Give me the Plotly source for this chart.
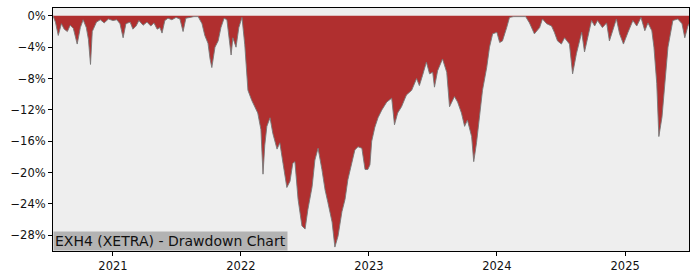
import plotly.graph_objects as go

dates = [
    "2020-07-14", "2020-07-21", "2020-07-29", "2020-08-07", "2020-08-15", "2020-08-24",
    "2020-09-01", "2020-09-10", "2020-09-21", "2020-09-30", "2020-10-08", "2020-10-17",
    "2020-10-23", "2020-10-29", "2020-11-03", "2020-11-15", "2020-11-26", "2020-12-07",
    "2020-12-19",
    "2021-01-01", "2021-01-12", "2021-01-21", "2021-01-30", "2021-02-07", "2021-02-19",
    "2021-02-27", "2021-03-08", "2021-03-16", "2021-03-28", "2021-04-08", "2021-04-19",
    "2021-04-28", "2021-05-07", "2021-05-15", "2021-05-21", "2021-05-29", "2021-06-07",
    "2021-06-18", "2021-06-30", "2021-07-11", "2021-07-20", "2021-07-28", "2021-08-09",
    "2021-08-20", "2021-09-01", "2021-09-12", "2021-09-20", "2021-09-29", "2021-10-05",
    "2021-10-10", "2021-10-19", "2021-10-28", "2021-11-05", "2021-11-14", "2021-11-22",
    "2021-11-28", "2021-12-04", "2021-12-09", "2021-12-18", "2021-12-26",
    "2022-01-04", "2022-01-12", "2022-01-21", "2022-02-01", "2022-02-10", "2022-02-18",
    "2022-02-27", "2022-03-05", "2022-03-10", "2022-03-16", "2022-03-25", "2022-04-02",
    "2022-04-14", "2022-04-22", "2022-05-01", "2022-05-12", "2022-05-21", "2022-05-29",
    "2022-06-04", "2022-06-13", "2022-06-24", "2022-07-03", "2022-07-11", "2022-07-23",
    "2022-07-31", "2022-08-09", "2022-08-20", "2022-08-29", "2022-09-06", "2022-09-18",
    "2022-09-26", "2022-10-05", "2022-10-16", "2022-10-25", "2022-11-02", "2022-11-14",
    "2022-11-22", "2022-12-01", "2022-12-12", "2022-12-21", "2022-12-29",
    "2023-01-04", "2023-01-09", "2023-01-18", "2023-01-27", "2023-02-07", "2023-02-21",
    "2023-03-07", "2023-03-15", "2023-03-24", "2023-04-04", "2023-04-18", "2023-05-03",
    "2023-05-17", "2023-05-25", "2023-06-03", "2023-06-14", "2023-06-23", "2023-07-02",
    "2023-07-07", "2023-07-16", "2023-07-30", "2023-08-11", "2023-08-19", "2023-09-02",
    "2023-09-11", "2023-09-22", "2023-10-01", "2023-10-09", "2023-10-21", "2023-10-27",
    "2023-11-04", "2023-11-13", "2023-11-21", "2023-12-03", "2023-12-11", "2023-12-20",
    "2024-01-01", "2024-01-09", "2024-01-17", "2024-01-29", "2024-02-06", "2024-02-18",
    "2024-02-29", "2024-03-11", "2024-03-23", "2024-04-03", "2024-04-17", "2024-05-02",
    "2024-05-10", "2024-05-22", "2024-06-05", "2024-06-13", "2024-06-22", "2024-07-03",
    "2024-07-12", "2024-07-26", "2024-08-04", "2024-08-15", "2024-08-30", "2024-09-07",
    "2024-09-16", "2024-09-27", "2024-10-06", "2024-10-14", "2024-10-28", "2024-11-09",
    "2024-11-17", "2024-11-26", "2024-12-07", "2024-12-16", "2024-12-27",
    "2025-01-09", "2025-01-23", "2025-02-03", "2025-02-15", "2025-02-26", "2025-03-07",
    "2025-03-18", "2025-03-24", "2025-04-01", "2025-04-07", "2025-04-16", "2025-04-24",
    "2025-05-03", "2025-05-17", "2025-05-31", "2025-06-12", "2025-06-20", "2025-06-29",
    "2025-07-02",
]

drawdown = [
    0.0, -0.8, -2.5, -1.0, -1.7, -2.0,
    -1.2, -1.6, -3.6, -1.5, -0.5, -1.5,
    -3.0, -6.2, -2.0, -0.8, -0.5, -0.9,
    -0.4,
    -0.6, -0.5, -1.0, -2.8, -1.0, -0.8,
    -1.7, -1.3, -0.6, -1.2, -0.8, -1.3,
    -0.9, -1.7, -1.5, -2.2, -0.6, -0.3,
    -0.5, -0.2, -0.4, -2.0, -0.3, -0.2,
    -0.1, -0.1, -1.0, -2.5, -3.5, -5.5,
    -6.6, -4.0, -3.2, -1.5, -0.3, -0.5,
    -3.0, -5.0, -2.8, -4.0, -1.5,
    -0.2, -3.7, -9.5, -10.8, -11.6, -12.4,
    -14.5, -20.2, -16.5, -14.1, -13.0, -15.0,
    -17.0, -16.2, -18.8, -21.9, -21.1, -18.8,
    -18.6, -23.4, -26.8, -27.2, -24.7, -21.8,
    -18.4, -16.9, -19.6, -22.2, -23.8, -26.3,
    -29.5, -28.1, -25.0, -23.4, -20.9, -18.8,
    -17.1, -16.7, -16.9, -19.6, -19.6,
    -19.0, -16.0, -14.2, -13.0, -12.0, -11.0,
    -10.5, -13.9, -12.4, -11.6, -10.1, -9.5,
    -8.0, -8.9, -7.6, -5.9, -7.4, -7.2,
    -9.1, -7.0, -5.5, -7.2, -11.6, -10.3,
    -11.0, -12.4, -14.1, -13.3, -15.4, -18.6,
    -16.2, -12.4, -9.5, -6.6, -4.0, -2.3,
    -2.1, -3.4, -3.2, -1.5, -0.2, -0.1,
    -0.1, -0.1, -0.1, -0.9, -2.3, -1.5,
    -0.4, -1.0, -1.3, -2.1, -3.2, -3.6,
    -2.8, -3.6, -7.4, -4.8, -2.1, -4.6,
    -2.8, -0.6, -1.3, -0.6, -1.5, -0.9,
    -3.2, -1.9, -0.4, -2.3, -3.6,
    -2.1, -0.6, -1.3, -0.2, -1.9, -0.9,
    -1.9, -4.0, -8.6, -15.4, -12.9, -9.1,
    -4.0, -0.6, -0.4, -1.0, -2.8, -1.3,
    -1.0,
]

y_ticks = [0, -4, -8, -12, -16, -20, -24, -28]
y_tick_labels = ["0%", "\u22124%", "\u22128%", "\u221212%", "\u221216%",
                 "\u221220%", "\u221224%", "\u221228%"]
x_ticks = ["2021-01-01", "2022-01-01", "2023-01-01", "2024-01-01", "2025-01-01"]
x_tick_labels = ["2021", "2022", "2023", "2024", "2025"]
title_text = "EXH4 (XETRA) - Drawdown Chart"

fig = go.Figure()
fig.add_trace(go.Scatter(
    x=dates, y=drawdown, mode="lines", fill="tozeroy",
    fillcolor="#b02f2f", line=dict(color="rgba(120,120,120,0.9)", width=1),
    hoverinfo="skip", showlegend=False,
))

axis_common = dict(showline=True, linecolor="black", linewidth=1, mirror=True,
                   ticks="outside", ticklen=4, tickcolor="black", showgrid=False,
                   zeroline=False, tickfont=dict(family="DejaVu Sans", size=11.5, color="#111"))

fig.update_layout(
    width=700, height=280,
    margin=dict(l=53, r=11, t=7, b=28),
    paper_bgcolor="white", plot_bgcolor="#eeeeee",
    xaxis=dict(range=["2020-07-14", "2025-07-02"], tickvals=x_ticks,
               ticktext=x_tick_labels, **axis_common),
    yaxis=dict(range=[-30, 1], tickvals=y_ticks, ticktext=y_tick_labels, **axis_common),
    annotations=[dict(
        text=title_text, xref="paper", yref="paper", x=0, y=0,
        xanchor="left", yanchor="bottom", showarrow=False,
        bgcolor="#b3b3b3", borderpad=1,
        font=dict(family="DejaVu Sans", size=14, color="#111"),
    )],
)

fig.write_html("out.html")
